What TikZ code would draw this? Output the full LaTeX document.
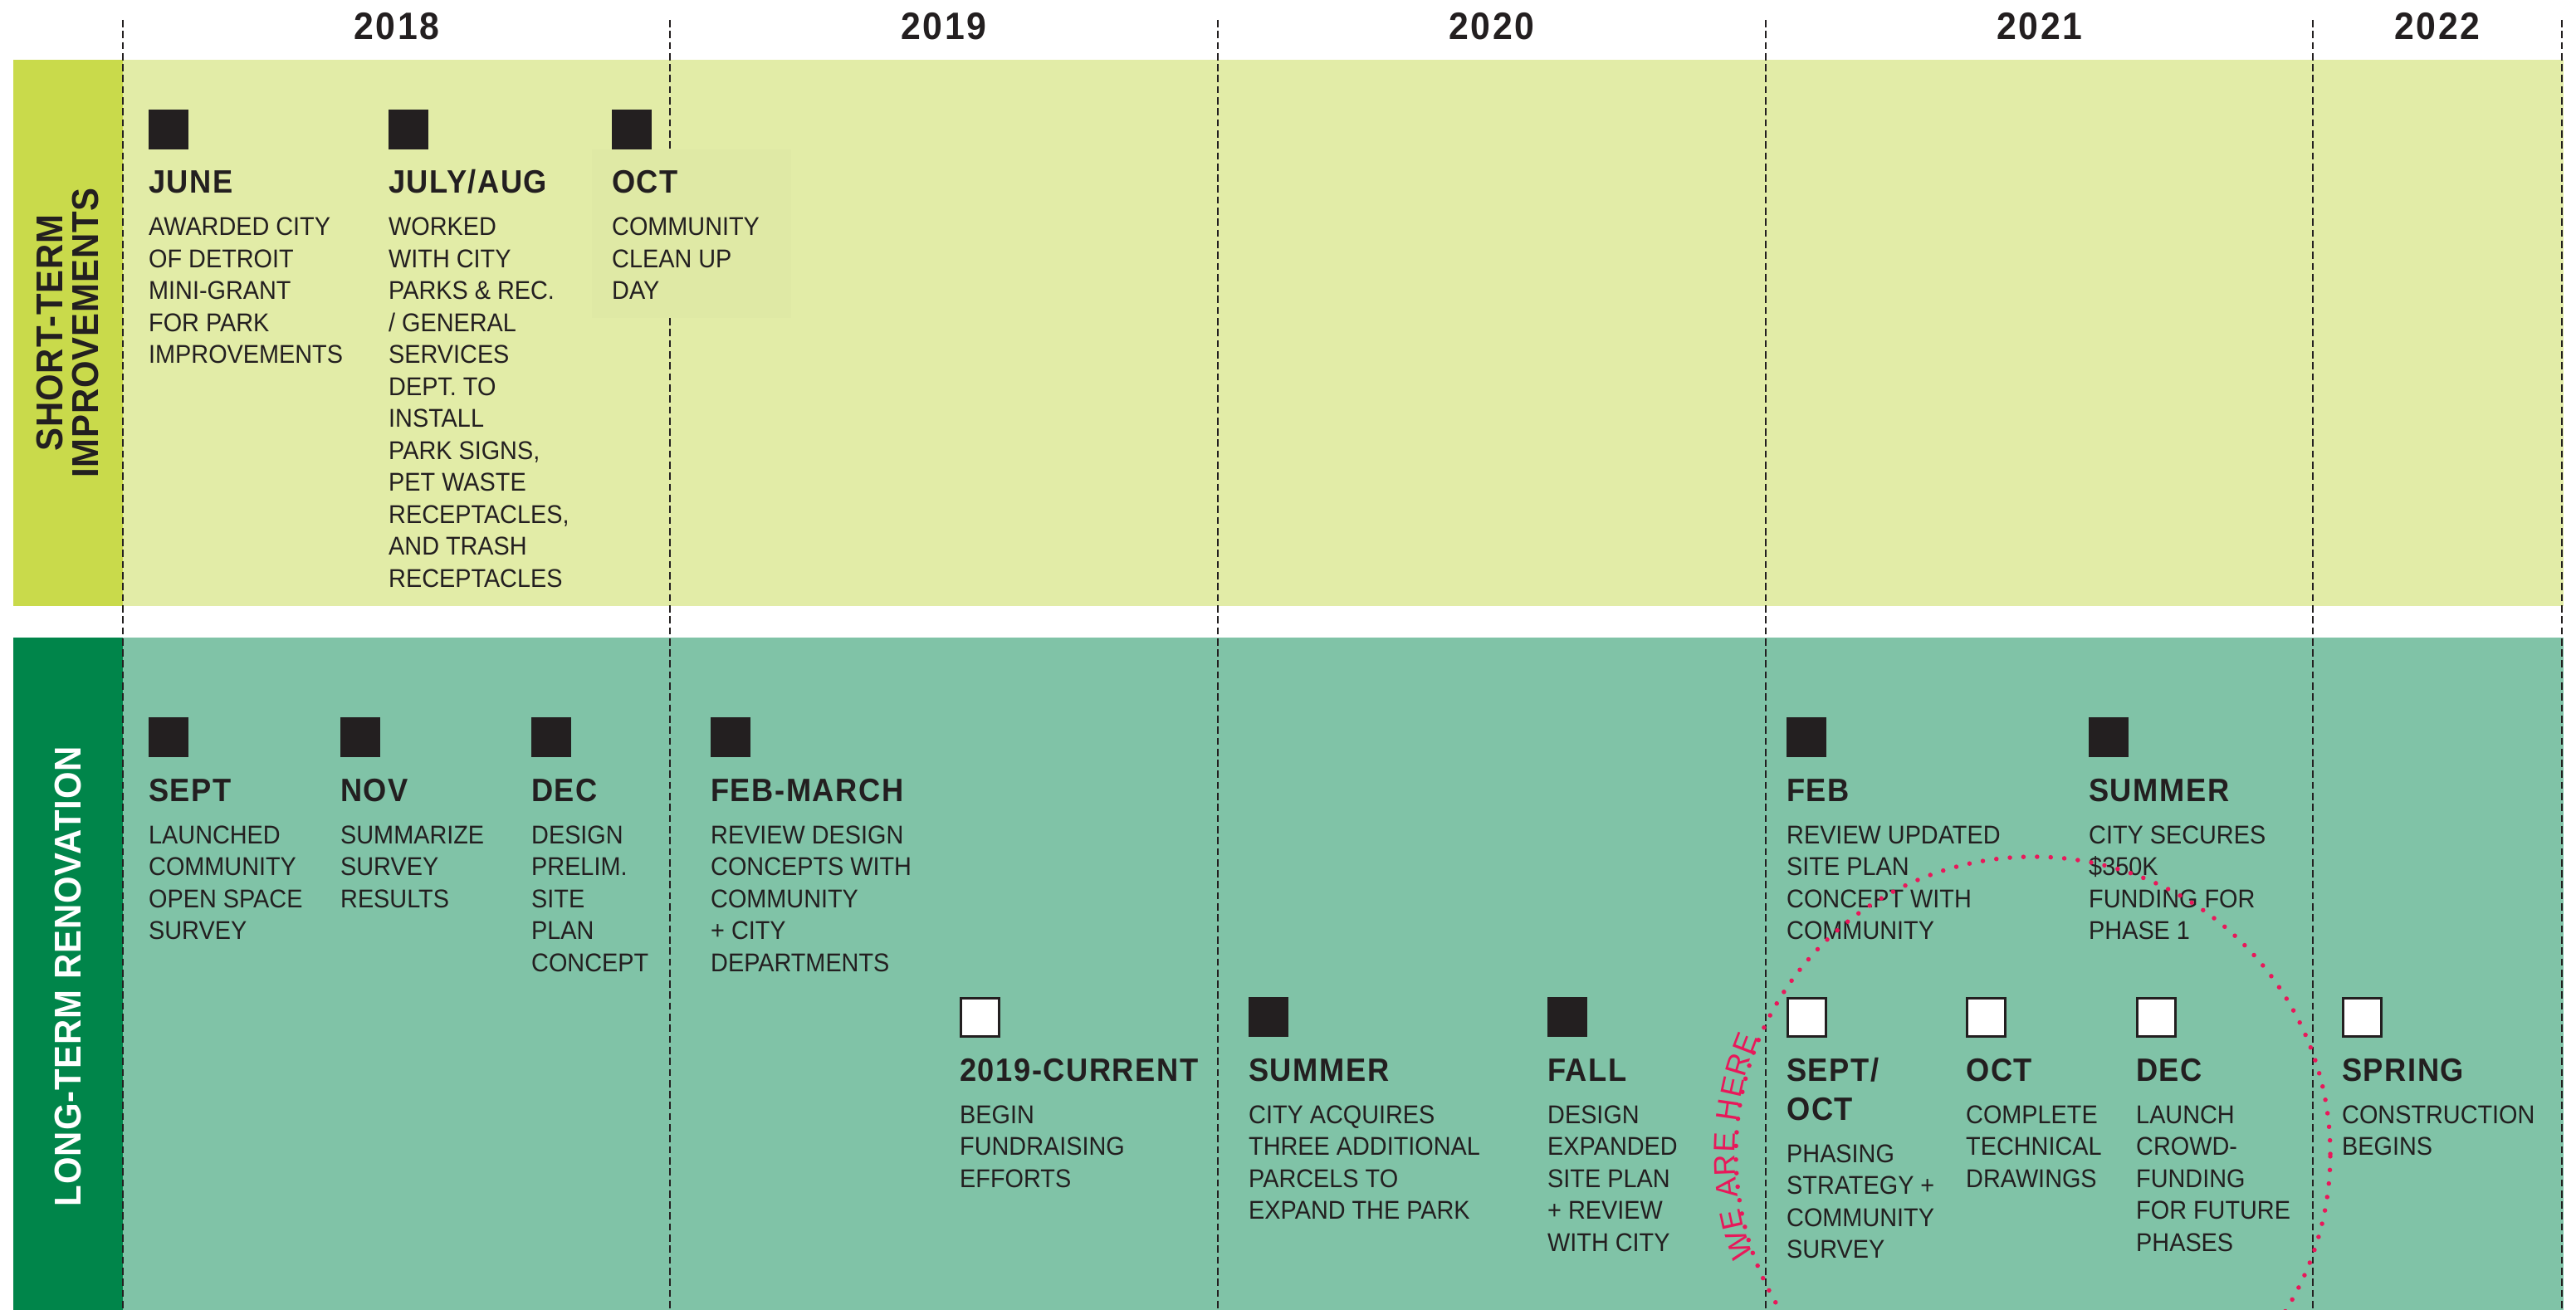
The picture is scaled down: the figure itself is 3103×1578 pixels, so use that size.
\documentclass[tikz,border=0pt]{standalone}
\usepackage{fontspec}
\setmainfont{Liberation Sans}
\newfontfamily\dinfont[FakeStretch=0.93]{Liberation Sans}
\newfontfamily\dinbold[FakeStretch=0.93,LetterSpace=4]{Liberation Sans}
\newfontfamily\yearfont[FakeStretch=0.93,LetterSpace=6]{Liberation Sans}
\newfontfamily\sidefont[FakeStretch=0.93,LetterSpace=2]{Liberation Sans}
\newfontfamily\wefont[LetterSpace=0]{Liberation Sans}
\usetikzlibrary{decorations.text}

\definecolor{topband}{HTML}{E2ECA7}
\definecolor{topstrip}{HTML}{C9DA4B}
\definecolor{botband}{HTML}{80C3A7}
\definecolor{botstrip}{HTML}{00854A}
\definecolor{ink}{HTML}{231F20}
\definecolor{wered}{HTML}{E8185A}
\definecolor{octbox}{HTML}{DFE9A5}

\tikzset{
  sqb/.style={fill=ink, minimum size=48pt, inner sep=0pt, outer sep=0pt},
  sqw/.style={fill=white, draw=ink, line width=3pt, minimum size=46pt, inner sep=0pt},
  lab/.style={inner sep=0pt, text=ink, font=\dinbold\bfseries\fontsize{39}{47}\selectfont},
  body/.style={inner sep=0pt, text=ink, font=\dinfont\fontsize{31}{38.5}\selectfont},
  yearlab/.style={inner sep=0pt, text=ink, font=\yearfont\bfseries\fontsize{46}{50}\selectfont},
  gridline/.style={draw=ink, line width=2.8pt, dash pattern=on 8.7pt off 4.6pt},
}

% #1 name, #2 x, #3 square top (px, downwards), #4 square style, #5 label, #6 body lines
\newcommand\tlevent[6]{%
  \node[#4, anchor=north west] (#1sq) at (#2,-#3) {};
  \node[lab, anchor=base west] (#1lab) at (#2,-#3-101) {#5};
  \node[body, anchor=base west] (#1txt) at (#2,-#3-152)
    {\begin{tabular}[t]{@{}l@{}}#6\end{tabular}};
}

\begin{document}
\begin{tikzpicture}[x=1pt,y=1pt]
\useasboundingbox (0,0) rectangle (3103,-1578);

% bands
\fill[topstrip] (16,-72) rectangle (148,-730);
\fill[topband] (148,-72) rectangle (3088,-730);
\fill[botstrip] (16,-768) rectangle (148,-1578);
\fill[botband] (148,-768) rectangle (3088,-1578);

% year dividers
\foreach \gx in {148,807,1467,2127,2786,3086}{
  \draw[gridline] (\gx,-24) -- (\gx,-1578);
}

% subtle box behind October label
\fill[octbox] (713,-180) rectangle (953,-383);

% years
\node[yearlab, anchor=base] (y2018) at (478,-48) {2018};
\node[yearlab, anchor=base] (y2019) at (1137,-48) {2019};
\node[yearlab, anchor=base] (y2020) at (1797,-48) {2020};
\node[yearlab, anchor=base] (y2021) at (2457,-48) {2021};
\node[yearlab, anchor=base] (y2022) at (2936,-48) {2022};

% side labels
\node[rotate=90, inner sep=0pt, text=ink, align=center,
      font=\sidefont\bfseries\fontsize{45}{43}\selectfont] (stlab) at (82,-401)
      {SHORT-TERM\\IMPROVEMENTS};
\node[rotate=90, inner sep=0pt, text=white,
      font=\sidefont\bfseries\fontsize{45}{43}\selectfont] (ltlab) at (82,-1176)
      {LONG-TERM RENOVATION};

% short-term events
\tlevent{june}{179}{132}{sqb}{JUNE}{AWARDED CITY\\OF DETROIT\\MINI-GRANT\\FOR PARK\\IMPROVEMENTS}
\tlevent{julaug}{468}{132}{sqb}{JULY/AUG}{WORKED\\WITH CITY\\PARKS \& REC.\\/ GENERAL\\SERVICES\\DEPT. TO\\INSTALL\\PARK SIGNS,\\PET WASTE\\RECEPTACLES,\\AND TRASH\\RECEPTACLES}
\tlevent{octa}{737}{132}{sqb}{OCT}{COMMUNITY\\CLEAN UP\\DAY}

% long-term events, first row
\tlevent{sept}{179}{864}{sqb}{SEPT}{LAUNCHED\\COMMUNITY\\OPEN SPACE\\SURVEY}
\tlevent{nov}{410}{864}{sqb}{NOV}{SUMMARIZE\\SURVEY\\RESULTS}
\tlevent{deca}{640}{864}{sqb}{DEC}{DESIGN\\PRELIM.\\SITE\\PLAN\\CONCEPT}
\tlevent{febmar}{856}{864}{sqb}{FEB-MARCH}{REVIEW DESIGN\\CONCEPTS WITH\\COMMUNITY\\+ CITY\\DEPARTMENTS}
\tlevent{feb}{2152}{864}{sqb}{FEB}{REVIEW UPDATED\\SITE PLAN\\CONCEPT WITH\\COMMUNITY}
\tlevent{summera}{2516}{864}{sqb}{SUMMER}{CITY SECURES\\\$350K\\FUNDING FOR\\PHASE 1}

% long-term events, second row
\tlevent{current}{1156}{1201}{sqw}{2019-CURRENT}{BEGIN\\FUNDRAISING\\EFFORTS}
\tlevent{summerb}{1504}{1201}{sqb}{SUMMER}{CITY ACQUIRES\\THREE ADDITIONAL\\PARCELS TO\\EXPAND THE PARK}
\tlevent{fall}{1864}{1201}{sqb}{FALL}{DESIGN\\EXPANDED\\SITE PLAN\\+ REVIEW\\WITH CITY}
\node[sqw, anchor=north west] (septoctsq) at (2152,-1201) {};
\node[lab, anchor=base west] (septoctlab) at (2152,-1302)
  {\begin{tabular}[t]{@{}l@{}}SEPT/\\OCT\end{tabular}};
\node[body, anchor=base west] (septocttxt) at (2152,-1400)
  {\begin{tabular}[t]{@{}l@{}}PHASING\\STRATEGY +\\COMMUNITY\\SURVEY\end{tabular}};
\tlevent{octb}{2368}{1201}{sqw}{OCT}{COMPLETE\\TECHNICAL\\DRAWINGS}
\tlevent{decb}{2573}{1201}{sqw}{DEC}{LAUNCH\\CROWD-\\FUNDING\\FOR FUTURE\\PHASES}
\tlevent{spring}{2821}{1201}{sqw}{SPRING}{CONSTRUCTION\\BEGINS}

% we are here
\coordinate (hereC) at (2449,-1390);
\path[decorate, decoration={text along path,
      text={|\wefont\fontsize{36}{38}\selectfont|WE ARE HERE},
      text color=wered, text align={fit to path}}]
  (hereC) ++(200:359) arc[start angle=200, end angle=157, radius=359];
\begin{scope}
  \clip (0,0) rectangle (3103,-1578);
  \draw[wered, line width=5.5pt, line cap=round, dash pattern=on 0pt off 16.4pt]
    (hereC) circle[radius=358];
\end{scope}
\end{tikzpicture}
\end{document}
